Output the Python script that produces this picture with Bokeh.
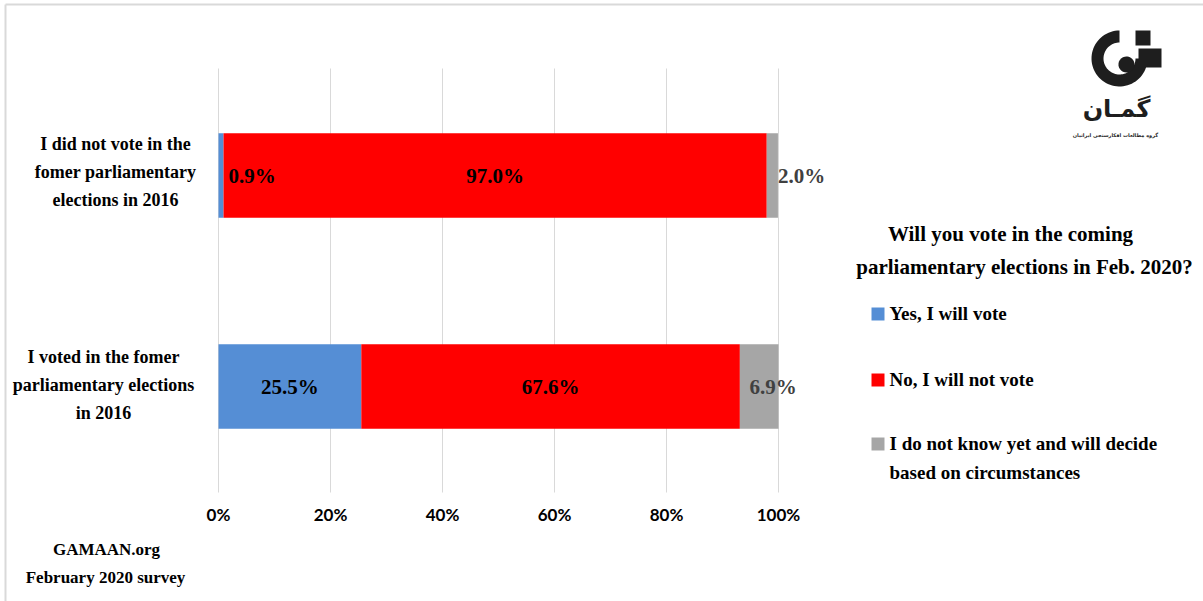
import numpy as np
from bokeh.plotting import figure
from bokeh.models import (Range1d, FixedTicker, Label, BoxAnnotation,
                          PolyAnnotation, ColumnDataSource)
from bokeh.embed import file_html
from bokeh.resources import INLINE

# ---------------- data ----------------
categories = ["I voted in the fomer\nparliamentary elections\nin 2016",
              "I did not vote in the\nfomer parliamentary\nelections in 2016"]
series_names = ["Yes, I will vote", "No, I will not vote",
                "I do not know yet and will decide\nbased on circumstances"]
yes_vote = [25.5, 0.9]
no_vote = [67.6, 97.0]
undecided = [6.9, 2.0]
tick_values = [0, 20, 40, 60, 80, 100]
tick_labels = ["0%", "20%", "40%", "60%", "80%", "100%"]
legend_title = ["Will you vote in the coming", "parliamentary elections in Feb. 2020?"]
source_lines = ["GAMAAN.org", "February 2020 survey"]
logo_name = "گمـان"
logo_sub = "گروه مطالعات افکارسنجی ایرانیان"

# ---------------- style / layout ----------------
colors = ["#558ED5", "#FF0000", "#A6A6A6"]
label_colors = ["#000000", "#000000", "#404040"]
SERIF = "Liberation Serif"

W, H = 1203, 601
X0, PX_PER_PCT = 218, 5.6   # 0% position and pixels per percent
Y_MID, PX_PER_CAT = 175, 211
PLOT_TOP, PLOT_BOTTOM = 68, 492

def X(px):
    return (px - X0) / PX_PER_PCT

def Y(py):
    return 1.5 - (py - Y_MID) / PX_PER_CAT

cat_pos = [i + 0.5 for i in range(len(categories))]

p = figure(width=W, height=H, output_backend="svg", toolbar_location=None,
           x_range=Range1d(X(0), X(W)), y_range=Range1d(Y(H), Y(0)),
           y_axis_location=None,
           min_border_left=0, min_border_right=0, min_border_top=0,
           min_border_bottom=0)
p.outline_line_color = None
p.background_fill_color = "white"
p.border_fill_color = "white"
p.xgrid.visible = False
p.ygrid.visible = False

# vertical gridlines (from the tick values)
p.segment(x0=tick_values, x1=tick_values, y0=Y(PLOT_TOP), y1=Y(PLOT_BOTTOM),
          line_color="#D9D9D9", line_width=1)

# stacked bars
src = ColumnDataSource(dict(pos=cat_pos, yes=yes_vote, no=no_vote, und=undecided))
p.hbar_stack(["yes", "no", "und"], y="pos", height=0.4, color=colors,
             line_color=None, source=src)

# x axis, pinned at the bottom of the plot area
xa = p.xaxis[0]
xa.fixed_location = Y(PLOT_BOTTOM)
xa.ticker = FixedTicker(ticks=tick_values)
xa.major_label_overrides = {v: t for v, t in zip(tick_values, tick_labels)}
xa.axis_line_color = None
xa.major_tick_line_color = None
xa.minor_tick_line_color = None
xa.major_tick_out = 0
xa.major_tick_in = 0
xa.major_label_standoff = 11
xa.major_label_text_font = "Lato"
xa.major_label_text_font_style = "bold"
xa.major_label_text_font_size = "17px"
xa.major_label_text_color = "black"

def text(t, x, y, size, align="center", color="black", font=SERIF, style="bold"):
    p.add_layout(Label(x=x, y=y, text=t, text_font=font, text_font_style=style,
                       text_font_size=f"{size}px", text_color=color,
                       text_align=align, text_baseline="middle"))

# ---------------- data labels ----------------
series = [yes_vote, no_vote, undecided]
for row in range(len(categories)):
    start = 0.0
    for s, vals in enumerate(series):
        v = vals[row]
        lbl = f"{v:.1f}%"
        yc = cat_pos[row]
        if v < 3:
            p.add_layout(Label(x=start + v, y=yc, text=lbl, x_offset=5 if s == 0 else 0,
                               text_font=SERIF, text_font_style="bold", text_font_size="21px",
                               text_color=label_colors[s], text_align="left",
                               text_baseline="middle"))
        else:
            p.add_layout(Label(x=start + v / 2, y=yc, text=lbl,
                               x_offset=14 if s == 2 else 0,
                               text_font=SERIF, text_font_style="bold", text_font_size="21px",
                               text_color=label_colors[s], text_align="center",
                               text_baseline="middle"))
        start += v

# ---------------- category labels (left) ----------------
cat_centers_px = [(103, 384), (115, 171)]
for row, cat in enumerate(categories):
    cx, cy = cat_centers_px[row]
    lines = cat.split("\n")
    for i, ln in enumerate(lines):
        text(ln, X(cx), Y(cy + (i - (len(lines) - 1) / 2) * 28), 18)

# ---------------- legend ----------------
text(legend_title[0], X(1010), Y(233), 21)
text(legend_title[1], X(1024), Y(266), 21)
legend_rows_px = [313, 379, 443]
for s, name in enumerate(series_names):
    yy = legend_rows_px[s]
    p.add_layout(BoxAnnotation(left=X(871), right=X(884), top=Y(yy - 6), bottom=Y(yy + 7),
                               fill_color=colors[s], fill_alpha=1, line_color=None))
    for i, ln in enumerate(name.split("\n")):
        text(ln, X(889), Y(yy + i * 29), 19, align="left")

# ---------------- footer ----------------
text(source_lines[0], X(106), Y(549), 17)
text(source_lines[1], X(105), Y(577), 17)

# ---------------- logo ----------------
dark = "#1E1E1E"
cx, cy, r_out, r_in = 1119, 58, 28, 16
th = np.radians(np.linspace(90, 360, 60))
ox = cx + r_out * np.cos(th); oy = cy - r_out * np.sin(th)
ix = cx + r_in * np.cos(th[::-1]); iy = cy - r_in * np.sin(th[::-1])
p.add_layout(PolyAnnotation(xs=[X(v) for v in np.concatenate([ox, ix])],
                            ys=[Y(v) for v in np.concatenate([oy, iy])],
                            fill_color=dark, fill_alpha=1, line_color=None))
p.add_layout(BoxAnnotation(left=X(1135), right=X(1150), top=Y(30), bottom=Y(45),
                           fill_color=dark, fill_alpha=1, line_color=None))
p.add_layout(BoxAnnotation(left=X(1138), right=X(1161), top=Y(48), bottom=Y(67),
                           fill_color=dark, fill_alpha=1, line_color=None))
tc = np.radians(np.linspace(0, 360, 40))
p.add_layout(PolyAnnotation(xs=[X(1126 + 8 * np.cos(t)) for t in tc],
                            ys=[Y(64 - 8 * np.sin(t)) for t in tc],
                            fill_color=dark, fill_alpha=1, line_color=None))
text(logo_name, X(1116), Y(108), 24, font="DejaVu Sans", color=dark)
text(logo_sub, X(1115), Y(134), 5, font="DejaVu Sans", color=dark)

# chart border (top & left)
p.segment(x0=[X(5), X(5)], x1=[X(W), X(5)], y0=[Y(4), Y(4)], y1=[Y(4), Y(H)],
          line_color="#D9D9D9", line_width=2)

open("out.html", "w").write(file_html(p, INLINE))
